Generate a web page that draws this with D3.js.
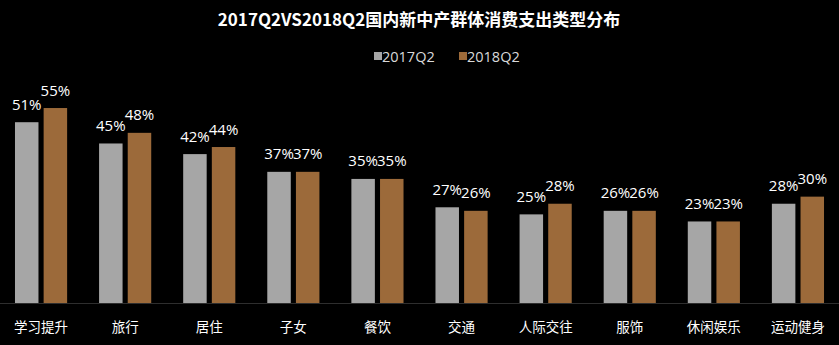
<!DOCTYPE html>
<html><head><meta charset="utf-8">
<script src="https://cdn.jsdelivr.net/npm/d3@7"></script>
<style>
html,body{margin:0;padding:0;background:#000;}
svg{display:block;}
</style></head>
<body>
<script>
const categories = ["学习提升","旅行","居住","子女","餐饮","交通","人际交往","服饰","休闲娱乐","运动健身"];
const seriesNames = ["2017Q2","2018Q2"];
const values2017 = [51,45,42,37,35,27,25,26,23,28];
const values2018 = [55,48,44,37,35,26,28,26,23,30];
const colors = ["#a6a6a6","#9c6a3a"];

const W = 839, H = 345;
const svg = d3.select("body").append("svg").attr("width", W).attr("height", H);
svg.append("rect").attr("width", W).attr("height", H).attr("fill", "#000");

const x0 = d3.scaleBand().domain(categories).range([-1, 840]).paddingInner(0.38).paddingOuter(0.19);
const x1 = d3.scaleBand().domain(seriesNames).range([0, x0.bandwidth()]).paddingInner(0.18);
const y = d3.scaleLinear().domain([0, 60]).range([303, 90.3]);

// title
svg.append("text").attr("x", 419).attr("y", 26).attr("text-anchor", "middle")
  .attr("fill", "#fff").attr("font-family", "'Noto Sans CJK SC', 'Noto Sans', sans-serif")
  .attr("font-weight", "bold").attr("font-size", 17).text("2017Q2VS2018Q2国内新中产群体消费支出类型分布");

// legend
const legendX = [374, 459];
seriesNames.forEach((s, i) => {
  svg.append("rect").attr("x", legendX[i]).attr("y", 52).attr("width", 8).attr("height", 8).attr("fill", colors[i]);
  svg.append("text").attr("x", legendX[i] + 8).attr("y", 62)
    .attr("fill", "#d9d9d9").attr("font-family", "'Open Sans', sans-serif").attr("font-size", 14.5)
    .text(s);
});

// baseline
svg.append("line").attr("x1", 0).attr("x2", W).attr("y1", y(0) + 0.5).attr("y2", y(0) + 0.5)
  .attr("stroke", "#2e2e2e").attr("stroke-width", 1);

const data = categories.map((c, i) => ({cat: c, vals: [values2017[i], values2018[i]]}));
const groups = svg.selectAll("g.grp").data(data).enter().append("g")
  .attr("transform", d => `translate(${x0(d.cat)},0)`);

groups.selectAll("rect").data(d => d.vals.map((v, i) => ({s: seriesNames[i], v, i})))
  .enter().append("rect")
  .attr("x", d => x1(d.s)).attr("width", x1.bandwidth())
  .attr("y", d => y(d.v)).attr("height", d => y(0) - y(d.v))
  .attr("fill", d => colors[d.i]);

groups.selectAll("text.val").data(d => d.vals.map((v, i) => ({s: seriesNames[i], v, i})))
  .enter().append("text").attr("class", "val")
  .attr("x", d => x1(d.s) + x1.bandwidth() / 2).attr("y", d => y(d.v) - 12.5)
  .attr("text-anchor", "middle").attr("fill", "#fff")
  .attr("font-family", "'Open Sans', sans-serif").attr("font-size", 15)
  .text(d => d.v + "%");

// category labels
svg.selectAll("text.cat").data(categories).enter().append("text").attr("class", "cat")
  .attr("x", d => x0(d) + x0.bandwidth() / 2).attr("y", 332)
  .attr("text-anchor", "middle").attr("fill", "#fff")
  .attr("font-family", "'Noto Sans CJK SC', sans-serif").attr("font-size", 13.5)
  .text(d => d);
</script>
</body></html>
